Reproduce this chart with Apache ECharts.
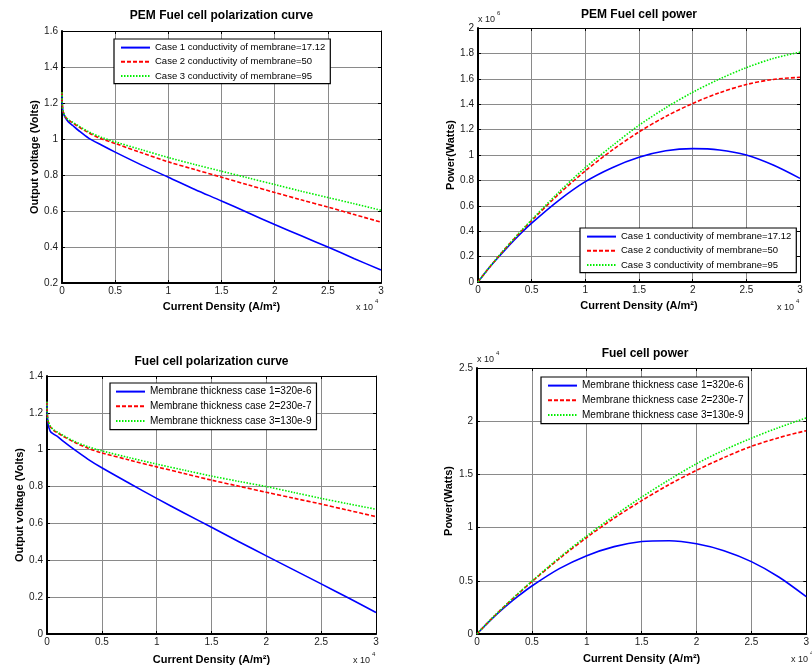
<!DOCTYPE html>
<html><head><meta charset="utf-8">
<script src="https://cdn.jsdelivr.net/npm/echarts@6/dist/echarts.min.js"></script>
<style>html,body{margin:0;padding:0;background:#fff}#c{width:812px;height:671px}</style>
</head><body><div id="c"></div><script>
// Current density in units of 1e4 A/m^2
const currentDensity = [0, 0.002, 0.01, 0.03, 0.06, 0.1, 0.15, 0.25, 0.375, 0.5, 0.75, 1.0, 1.25, 1.5, 1.75, 2.0, 2.25, 2.5, 2.75, 3.0];

// Panel 1: PEM polarization (Volts)
const pemVoltCase1 = [1.26, 1.2, 1.15, 1.12, 1.095, 1.075, 1.05, 1.005, 0.965, 0.927, 0.855, 0.788, 0.72, 0.656, 0.59, 0.525, 0.462, 0.4, 0.335, 0.272];
const pemVoltCase2 = [1.26, 1.2, 1.155, 1.125, 1.105, 1.09, 1.07, 1.035, 1.0, 0.975, 0.923, 0.873, 0.83, 0.788, 0.745, 0.703, 0.662, 0.622, 0.58, 0.538];
const pemVoltCase3 = [1.26, 1.2, 1.155, 1.127, 1.107, 1.093, 1.075, 1.04, 1.008, 0.984, 0.94, 0.897, 0.858, 0.821, 0.784, 0.747, 0.71, 0.675, 0.64, 0.604];

// Panel 2: PEM power (units of 1e6 W)
const pemPowerCase1 = [0, 0.0024, 0.0115, 0.034, 0.066, 0.108, 0.158, 0.251, 0.362, 0.463, 0.641, 0.79, 0.9, 0.982, 1.033, 1.05, 1.04, 1.0, 0.921, 0.816];
const pemPowerCase2 = [0, 0.0024, 0.0116, 0.034, 0.066, 0.109, 0.16, 0.259, 0.375, 0.484, 0.69, 0.875, 1.038, 1.182, 1.304, 1.406, 1.49, 1.555, 1.595, 1.612];
const pemPowerCase3 = [0, 0.0024, 0.0116, 0.034, 0.066, 0.109, 0.161, 0.26, 0.378, 0.49, 0.705, 0.9, 1.072, 1.234, 1.372, 1.494, 1.598, 1.688, 1.76, 1.81];

// Panel 3: thickness polarization (Volts)
const thkVoltCase1 = [1.26, 1.2, 1.14, 1.1, 1.085, 1.07, 1.045, 1.0, 0.948, 0.902, 0.818, 0.736, 0.657, 0.579, 0.501, 0.424, 0.348, 0.272, 0.195, 0.117];
const thkVoltCase2 = [1.26, 1.2, 1.155, 1.125, 1.105, 1.09, 1.072, 1.04, 1.008, 0.983, 0.944, 0.907, 0.871, 0.835, 0.802, 0.769, 0.737, 0.705, 0.671, 0.637];
const thkVoltCase3 = [1.26, 1.2, 1.157, 1.128, 1.108, 1.094, 1.077, 1.045, 1.016, 0.994, 0.957, 0.922, 0.889, 0.857, 0.828, 0.80, 0.768, 0.736, 0.706, 0.677];

// Panel 4: thickness power (units of 1e4 W)
const thkPowerCase1 = [0, 0.0024, 0.0114, 0.033, 0.065, 0.107, 0.157, 0.25, 0.355, 0.451, 0.614, 0.736, 0.821, 0.869, 0.877, 0.848, 0.783, 0.68, 0.536, 0.351];
const thkPowerCase2 = [0, 0.0024, 0.0116, 0.034, 0.066, 0.109, 0.161, 0.26, 0.378, 0.492, 0.708, 0.907, 1.089, 1.253, 1.404, 1.538, 1.658, 1.763, 1.845, 1.911];
const thkPowerCase3 = [0, 0.0024, 0.0116, 0.034, 0.066, 0.109, 0.162, 0.261, 0.381, 0.497, 0.718, 0.922, 1.111, 1.286, 1.449, 1.6, 1.728, 1.84, 1.941, 2.031];

const condNames = ['Case 1 conductivity of membrane=17.12', 'Case 2 conductivity of membrane=50', 'Case 3 conductivity of membrane=95'];
const thkNames = ['Membrane thickness case 1=320e-6', 'Membrane thickness case 2=230e-7', 'Membrane thickness case 3=130e-9'];
const titles = ['PEM Fuel cell polarization curve', 'PEM Fuel cell power', 'Fuel cell polarization curve', 'Fuel cell power'];
const xName = 'Current Density (A/m²)';
const yNames = ['Output voltage (Volts)', 'Power(Watts)', 'Output voltage (Volts)', 'Power(Watts)'];

const FONT = '"Liberation Sans", Arial, sans-serif';
const grids = [
  {left: 62, top: 31, width: 319, height: 252},
  {left: 478, top: 28, width: 322, height: 254},
  {left: 47, top: 376, width: 329, height: 258},
  {left: 477, top: 368, width: 336, height: 266}
];
const yRanges = [[0.2, 1.6, 0.2], [0, 2, 0.2], [0, 1.4, 0.2], [0, 2.5, 0.5]];
const xNameGaps = [18, 18, 20, 19];
const yNameGaps = [22, 21, 21, 23];

const xAxis = [], yAxis = [];
grids.forEach((g, i) => {
  xAxis.push({
    type: 'value', gridIndex: i, min: 0, max: 3, interval: 0.5, position: 'bottom',
    name: xName, nameLocation: 'middle', nameGap: xNameGaps[i],
    nameTextStyle: {fontFamily: FONT, fontWeight: 'bold', fontSize: 11, color: '#000'},
    axisLine: {show: true, onZero: false, lineStyle: {color: '#000', width: 2}},
    axisTick: {show: true, inside: true, length: 3, lineStyle: {color: '#000'}},
    axisLabel: {fontFamily: FONT, fontSize: 10, color: '#1a1a1a', margin: 3},
    splitLine: {show: true, lineStyle: {color: '#8a8a8a', width: 1}}
  });
  xAxis.push({
    type: 'value', gridIndex: i, min: 0, max: 3, interval: 0.5, position: 'top',
    axisLine: {show: true, onZero: false, lineStyle: {color: '#000', width: 1}},
    axisTick: {show: true, inside: true, length: 3, lineStyle: {color: '#000'}},
    axisLabel: {show: false}, splitLine: {show: false}
  });
  const r = yRanges[i];
  yAxis.push({
    type: 'value', gridIndex: i, min: r[0], max: r[1], interval: r[2], position: 'left',
    name: yNames[i], nameLocation: 'middle', nameGap: yNameGaps[i],
    nameTextStyle: {fontFamily: FONT, fontWeight: 'bold', fontSize: 11, color: '#000'},
    axisLine: {show: true, onZero: false, lineStyle: {color: '#000', width: 2}},
    axisTick: {show: true, inside: true, length: 3, lineStyle: {color: '#000'}},
    axisLabel: {fontFamily: FONT, fontSize: 10, color: '#1a1a1a', margin: 4},
    splitLine: {show: true, lineStyle: {color: '#8a8a8a', width: 1}}
  });
  yAxis.push({
    type: 'value', gridIndex: i, min: r[0], max: r[1], interval: r[2], position: 'right',
    axisLine: {show: true, onZero: false, lineStyle: {color: '#000', width: 1}},
    axisTick: {show: true, inside: true, length: 3, lineStyle: {color: '#000'}},
    axisLabel: {show: false}, splitLine: {show: false}
  });
});

const styles = [
  {color: '#0000ff', type: 'solid'},
  {color: '#ff0000', type: [4, 2]},
  {color: '#00ee00', type: [1.5, 1.5]}
];
const panelData = [
  [pemVoltCase1, pemVoltCase2, pemVoltCase3],
  [pemPowerCase1, pemPowerCase2, pemPowerCase3],
  [thkVoltCase1, thkVoltCase2, thkVoltCase3],
  [thkPowerCase1, thkPowerCase2, thkPowerCase3]
];
const panelNames = [condNames, condNames, thkNames, thkNames];
const series = [];
panelData.forEach((arrs, i) => {
  arrs.forEach((vals, k) => {
    series.push({
      type: 'line', name: panelNames[i][k], xAxisIndex: 2 * i, yAxisIndex: 2 * i,
      data: currentDensity.map((x, j) => [x, vals[j]]),
      symbol: 'none', smooth: 0.3, animation: false,
      lineStyle: {color: styles[k].color, type: styles[k].type, width: 1.6},
      itemStyle: {color: styles[k].color}
    });
  });
});

function legend(names, left, top, fs, pad, gap) {
  return {
    orient: 'vertical', left, top, data: names, itemWidth: 29, itemHeight: 14, itemGap: gap,
    backgroundColor: '#fff', borderColor: '#000', borderWidth: 1.2, padding: pad,
    itemStyle: {opacity: 0, borderWidth: 0},
    textStyle: {fontFamily: FONT, fontSize: fs, color: '#000'}, selectedMode: false
  };
}

const titleCenters = [[221.5, 10], [639, 9], [211.5, 356], [645, 348]];
const title = titles.map((t, i) => ({
  text: t, left: titleCenters[i][0], top: titleCenters[i][1], textAlign: 'center', padding: 0,
  textStyle: {fontFamily: FONT, fontWeight: 'bold', fontSize: 12, color: '#000'}
}));

function expo(x, y, base, sup) {
  return [
    {type: 'text', left: x, top: y, style: {text: base, font: '9px ' + FONT, fill: '#1a1a1a'}},
    {type: 'text', left: x + 19, top: y - 5, style: {text: sup, font: '6px ' + FONT, fill: '#1a1a1a'}}
  ];
}

const option = {
  backgroundColor: '#fff',
  animation: false,
  title,
  grid: grids,
  xAxis, yAxis, series,
  legend: [
    legend(condNames, 114, 39, 9.5, [3, 5, 2, 6], 3),
    legend(condNames, 580, 228, 9.5, [3, 5, 2, 6], 3),
    legend(thkNames, 110, 383, 10, [3, 5, 3, 5], 3.5),
    legend(thkNames, 541, 377, 10, [3, 5, 3, 6], 3.5)
  ],
  graphic: [].concat(
    expo(356, 303, 'x 10', '4'),
    expo(777, 303, 'x 10', '4'),
    expo(353, 656, 'x 10', '4'),
    expo(791, 655, 'x 10', '4'),
    expo(478, 15, 'x 10', '6'),
    expo(477, 355, 'x 10', '4')
  )
};
const chart = echarts.init(document.getElementById('c'), null, {renderer: 'canvas'});
chart.setOption(option);
</script></body></html>
